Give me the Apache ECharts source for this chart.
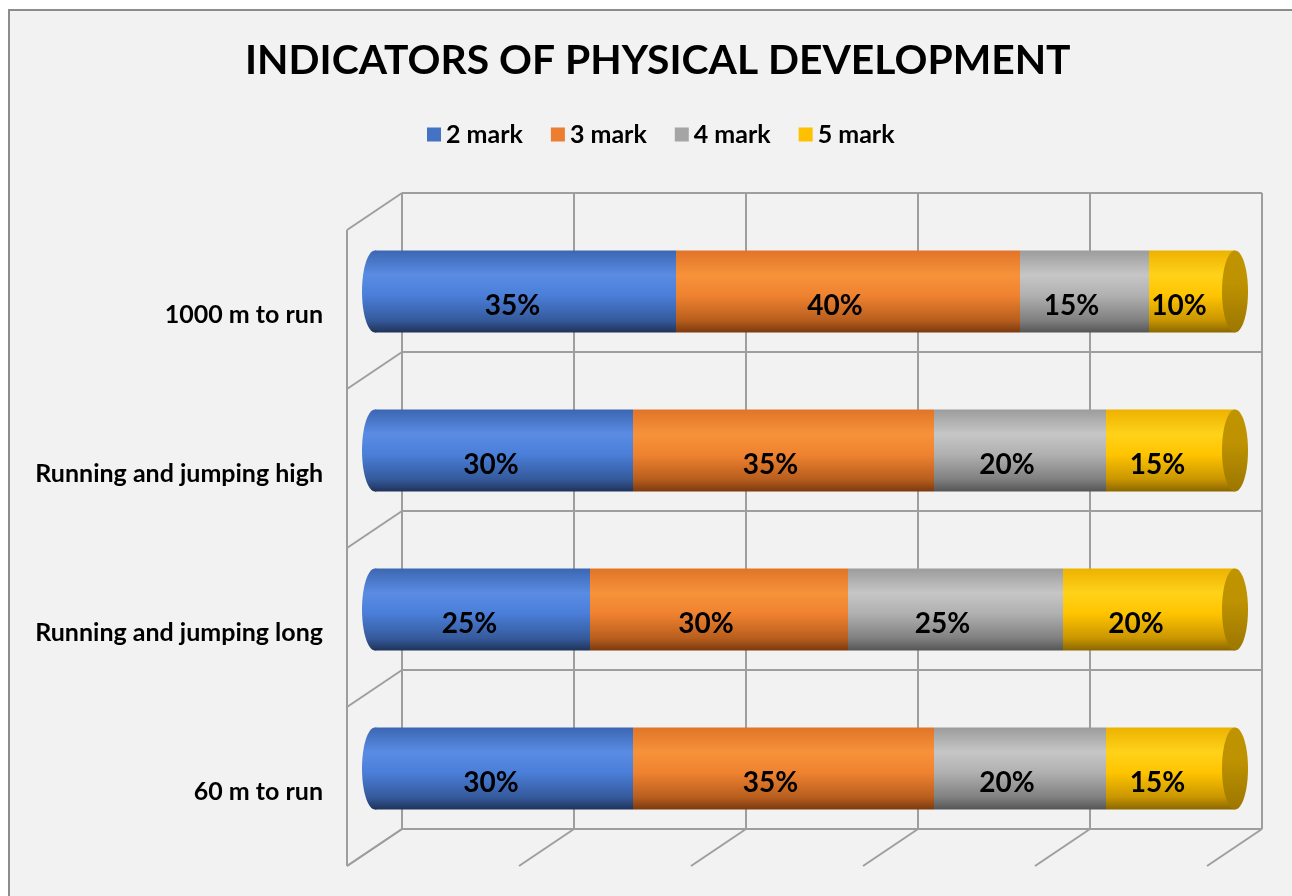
<!DOCTYPE html>
<html>
<head>
<meta charset="utf-8">
<script src="https://cdn.jsdelivr.net/npm/echarts@6/dist/echarts.min.js"></script>
<style>
  html, body { margin: 0; padding: 0; background: #ffffff; }
  #frame { position: absolute; left: 8px; top: 9px; width: 1290px; height: 890px;
           background: #F2F2F2; border-left: 2px solid #8C8C8C; border-top: 2px solid #8C8C8C; }
  #chart { position: absolute; left: 0; top: 0; width: 1292px; height: 896px; }
</style>
</head>
<body>
<div id="frame"></div>
<div id="chart"></div>
<script>
// ---- data ----
const categories = ['1000 m to run', 'Running and jumping high', 'Running and jumping long', '60 m to run'];
const seriesNames = ['2 mark', '3 mark', '4 mark', '5 mark'];
const mark2 = [35, 30, 25, 30];
const mark3 = [40, 35, 30, 35];
const mark4 = [15, 20, 25, 20];
const mark5 = [10, 15, 20, 15];
const xTicks = [0, 20, 40, 60, 80, 100];

// ---- style ----
const FONT = 'Lato, "Open Sans", sans-serif';
const DX = -55, DY = 37;           // depth offset back -> front
const BAR_W = 82, CAP_RX = 13;
const baseColors = ['#4472C4', '#ED7D31', '#A5A5A5', '#FFC000'];
const gradStops = [
  ['#3C66B2', '#5A8CE4', '#4A7ED8', '#355A9C', '#1F3359'],
  ['#E07428', '#F7923A', '#EF8230', '#B85E1E', '#7A3A0E'],
  ['#9C9C9C', '#C6C6C6', '#B0B0B0', '#808080', '#555555'],
  ['#EDB200', '#FFD21A', '#FFC400', '#C99600', '#8A6600']
];
function grad(i) {
  const s = gradStops[i];
  return new echarts.graphic.LinearGradient(0, 0, 0, 1, [
    { offset: 0, color: s[0] }, { offset: 0.3, color: s[1] },
    { offset: 0.55, color: s[2] }, { offset: 0.85, color: s[3] }, { offset: 1, color: s[4] }
  ]);
}
const lineColor = '#9E9E9E';
const lineW = 2;

const values = [mark2, mark3, mark4, mark5];
const totals = categories.map((c, i) => values.reduce((a, v) => a + v[i], 0));

const barSeries = seriesNames.map((name, i) => ({
  name: name,
  type: 'bar',
  stack: 'total',
  xAxisIndex: 1, yAxisIndex: 1,
  barWidth: BAR_W,
  z: 3,
  itemStyle: { color: grad(i) },
  label: {
    show: true, position: 'inside', offset: [-13, 14],
    formatter: '{c}%', color: '#000', fontFamily: FONT, fontWeight: 'bold', fontSize: 28
  },
  data: values[i]
}));

const chart = echarts.init(document.getElementById('chart'), null, { renderer: 'canvas' });
chart.setOption({
  backgroundColor: 'transparent',
  animation: false,
  title: {
    text: 'INDICATORS OF PHYSICAL DEVELOPMENT',
    left: 240, top: 35,
    textStyle: { fontFamily: FONT, fontWeight: 'bold', fontSize: 40.8, color: '#000' }
  },
  legend: {
    top: 117, left: 422,
    itemWidth: 14, itemHeight: 14, itemGap: 28, icon: 'rect',
    textStyle: { fontFamily: FONT, fontWeight: 'bold', fontSize: 25, color: '#000' },
    data: seriesNames.map((n, i) => ({ name: n, itemStyle: { color: baseColors[i] } }))
  },
  grid: [
    { left: 402, top: 193, width: 860, height: 636 },      // back wall
    { left: 375, top: 212, width: 860, height: 636 },      // bars (mid depth)
    { left: 347, top: 235, width: 860, height: 636 }       // front (labels)
  ],
  xAxis: [
    { gridIndex: 0, type: 'value', min: 0, max: 100, interval: 20,
      axisLabel: { show: false }, axisTick: { show: false }, axisLine: { show: false },
      splitLine: { show: true, lineStyle: { color: lineColor, width: lineW } } },
    { gridIndex: 1, type: 'value', min: 0, max: 100, show: false },
    { gridIndex: 2, type: 'value', min: 0, max: 100, show: false }
  ],
  yAxis: [
    { gridIndex: 0, type: 'category', inverse: true, data: categories,
      axisLabel: { show: false }, axisTick: { show: false },
      axisLine: { show: false },
      splitLine: { show: true, lineStyle: { color: lineColor, width: lineW } } },
    { gridIndex: 1, type: 'category', inverse: true, data: categories, show: false },
    { gridIndex: 2, type: 'category', inverse: true, data: categories,
      axisTick: { show: false }, axisLine: { show: false },
      axisLabel: { show: true, margin: 24, color: '#000', fontFamily: FONT, fontWeight: 'bold', fontSize: 25 } }
  ],
  series: [
    // floor lines from back wall to front
    {
      type: 'custom', xAxisIndex: 0, yAxisIndex: 0, silent: true, clip: false, z: 1,
      data: xTicks.map(v => [v, 0]),
      renderItem: function (params, api) {
        const cs = params.coordSys;
        const x = api.coord([api.value(0), 0])[0];
        const y = cs.y + cs.height;
        return { type: 'line', shape: { x1: x, y1: y, x2: x + DX, y2: y + DY },
                 style: { stroke: lineColor, lineWidth: lineW } };
      }
    },
    // left wall lines and front-left edge
    {
      type: 'custom', xAxisIndex: 0, yAxisIndex: 0, silent: true, clip: false, z: 1,
      data: [0, 1, 2, 3, 4].map(k => [0, k]),
      renderItem: function (params, api) {
        const cs = params.coordSys;
        const k = api.value(1);
        const x = api.coord([0, 0])[0];
        const y = cs.y + k * cs.height / categories.length;
        const children = [
          { type: 'line', shape: { x1: x, y1: y, x2: x + DX, y2: y + DY },
            style: { stroke: lineColor, lineWidth: lineW } }
        ];
        if (k === 0) {
          children.push({ type: 'line',
            shape: { x1: x + DX, y1: cs.y + DY, x2: x + DX, y2: cs.y + cs.height + DY },
            style: { stroke: lineColor, lineWidth: lineW } });
        }
        return { type: 'group', children: children };
      }
    },
    // left rounded caps (under bars)
    {
      type: 'custom', xAxisIndex: 1, yAxisIndex: 1, silent: true, clip: false, z: 2,
      data: categories.map((c, i) => [0, i]),
      renderItem: function (params, api) {
        const p = api.coord([api.value(0), api.value(1)]);
        return { type: 'ellipse', shape: { cx: p[0], cy: p[1], rx: CAP_RX, ry: BAR_W / 2 },
                 style: { fill: grad(0) } };
      }
    },
    ...barSeries,
    // right end caps (top face of cylinder)
    {
      type: 'custom', xAxisIndex: 1, yAxisIndex: 1, silent: true, clip: false, z: 4,
      data: totals.map((t, i) => [t, i]),
      renderItem: function (params, api) {
        const p = api.coord([api.value(0), api.value(1)]);
        return { type: 'ellipse', shape: { cx: p[0], cy: p[1], rx: CAP_RX, ry: BAR_W / 2 },
                 style: { fill: new echarts.graphic.LinearGradient(0, 0, 0, 1, [
                   { offset: 0, color: '#C09400' }, { offset: 0.4, color: '#BE9200' },
                   { offset: 1, color: '#9C7600' }]) } };
      }
    }
  ]
});
</script>
</body>
</html>
